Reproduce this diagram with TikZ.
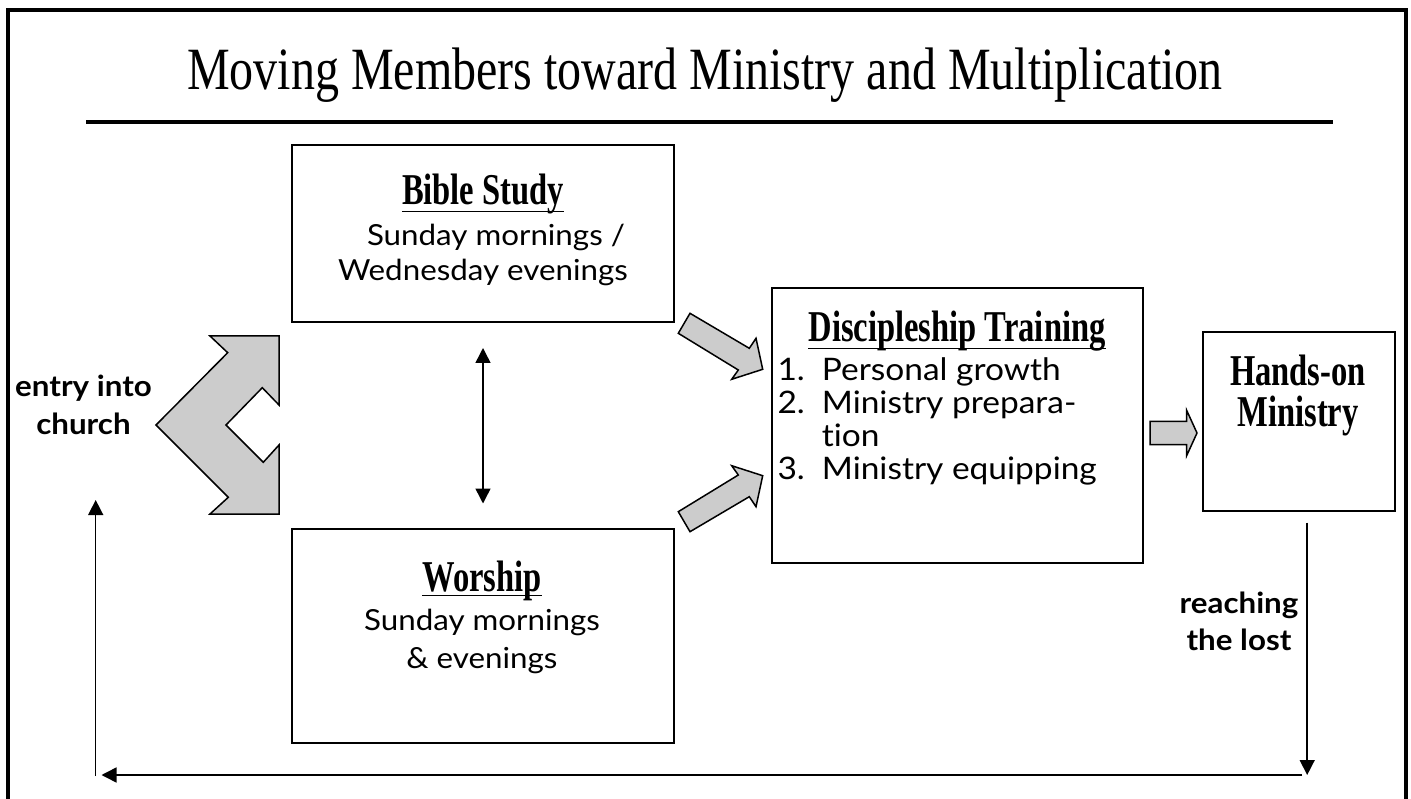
\documentclass[tikz,border=0pt]{standalone}
\usepackage{fontspec}
\setmainfont{Lato}[FakeStretch=1.08,Ligatures=NoCommon]
\newfontfamily\titlefont[FakeStretch=0.8]{Liberation Serif}
\newfontfamily\headfont[FakeStretch=0.74]{Liberation Serif}
\usetikzlibrary{arrows.meta}
\tikzset{
    box/.style={draw,line width=2pt,inner sep=0pt},
    head/.style={font=\headfont\bfseries\fontsize{44}{44}\selectfont,inner sep=0pt,anchor=base},
    body/.style={font=\fontsize{29}{29}\selectfont,inner sep=0pt,anchor=base},
    item/.style={font=\fontsize{31}{31}\selectfont,inner sep=0pt,anchor=base west},
    side/.style={font=\bfseries\fontsize{29}{29}\selectfont,inner sep=0pt,anchor=base},
    blockarrow/.style={draw,fill=gray!40,line width=1.5pt,line join=miter},
    flow/.style={line width=1.5pt,>={Triangle[length=15pt,width=15pt]}},
    uline/.style={line width=1.2pt},
}

\begin{document}
\begin{tikzpicture}[x=1pt,y=-1pt]
\useasboundingbox (0,0) rectangle (1411,799);
% frame and title
\draw[line width=4pt] (8,799) -- (8,10) -- (1406,10) -- (1406,799);
\node[inner sep=0pt,anchor=base,font=\titlefont\fontsize{60}{60}\selectfont] (title) at (705,90) {Moving Members toward Ministry and Multiplication};
\draw[line width=4pt] (86,122) -- (1333,122);
% boxes
\node[box,minimum width=382pt,minimum height=177.5pt] (bible) at (483,233.75) {};
\node[box,minimum width=382pt,minimum height=214.5pt] (worship) at (483,635.75) {};
\node[box,minimum width=370.8pt,minimum height=275pt] (disc) at (957.1,425.8) {};
\node[box,minimum width=191.7pt,minimum height=178.4pt] (hands) at (1299.2,421.5) {};
% Bible Study
\node[head] (bibleH) at (483,205) {Bible Study};
\draw[uline] ([yshift=-6.7pt]bibleH.base west) -- ([yshift=-6.7pt]bibleH.base east);
\node[body] (bibleA) at (496,246) {Sunday mornings /};
\node[body] (bibleB) at (483,281) {Wednesday evenings};
% Worship
\node[head] (worshipH) at (482,591.7) {Worship};
\draw[uline] ([yshift=-4pt]worshipH.base west) -- ([yshift=-4pt]worshipH.base east);
\node[body] (worshipA) at (482,630) {Sunday mornings};
\node[body] (worshipB) at (482,668) {\& evenings};
% Discipleship Training
\node[head] (discH) at (957,341.7) {Discipleship Training};
\draw[uline] ([yshift=-6.7pt]discH.base west) -- ([yshift=-6.7pt]discH.base east);
\node[item] (num1) at (777.3,380.7) {1.};
\node[item] (item1) at (821.7,380.7) {Personal growth};
\node[item] (num2) at (777.3,413.7) {2.};
\node[item] (item2) at (821.7,413.7) {Ministry prepara-};
\node[item] (item2b) at (821.7,446.7) {tion};
\node[item] (num3) at (777.3,479.7) {3.};
\node[item] (item3) at (821.7,479.7) {Ministry equipping};
% Hands-on Ministry
\node[head] (handsA) at (1298,386) {Hands-on};
\node[head] (handsB) at (1298,427) {Ministry};
% side labels
\node[side] (entryA) at (83.5,397) {entry into};
\node[side] (entryB) at (83.5,435) {church};
\node[side] (lostA) at (1239,613) {reaching};
\node[side] (lostB) at (1239,650) {the lost};
% block arrows
\draw[blockarrow] (210,336) -- (279,336) -- (279,405) -- (262.3,387.7) -- (226,425) -- (263.3,462.3) -- (279,445) -- (279,514) -- (210,514) -- (228.3,497.3) -- (156,425) -- (227.7,352.7) -- cycle;
\draw[blockarrow] (690,313.3) -- (749.3,348.3) -- (756,338.3) -- (762.7,369.3) -- (731.7,379.3) -- (738.3,370) -- (678.3,333.3) -- cycle;
\draw[blockarrow] (690,531.7) -- (749.3,496.7) -- (756,506.7) -- (762.7,475.7) -- (731.7,465.7) -- (738.3,475) -- (678.3,511.7) -- cycle;
\draw[blockarrow] (1150,421.5) -- (1186.5,421.5) -- (1186.5,410) -- (1197,433) -- (1186.5,456) -- (1186.5,444.5) -- (1150,444.5) -- cycle;
% connectors
\draw[flow,<->] ([yshift=-24.5pt]bible.south) -- ([yshift=24pt]worship.north);
\coordinate (lostEnd) at (1307.2,775);
\coordinate (backR) at (1302,775);
\coordinate (backL) at (101.5,775);
\coordinate (entryBot) at (95.7,776);
\coordinate (entryTop) at (95.7,500);
\draw[flow,->] ([xshift=8pt,yshift=-11pt]hands.south) -- (lostEnd);
\draw[flow,->] (backR) -- (backL);
\draw[flow,->] (entryBot) -- (entryTop);
\end{tikzpicture}
\end{document}
